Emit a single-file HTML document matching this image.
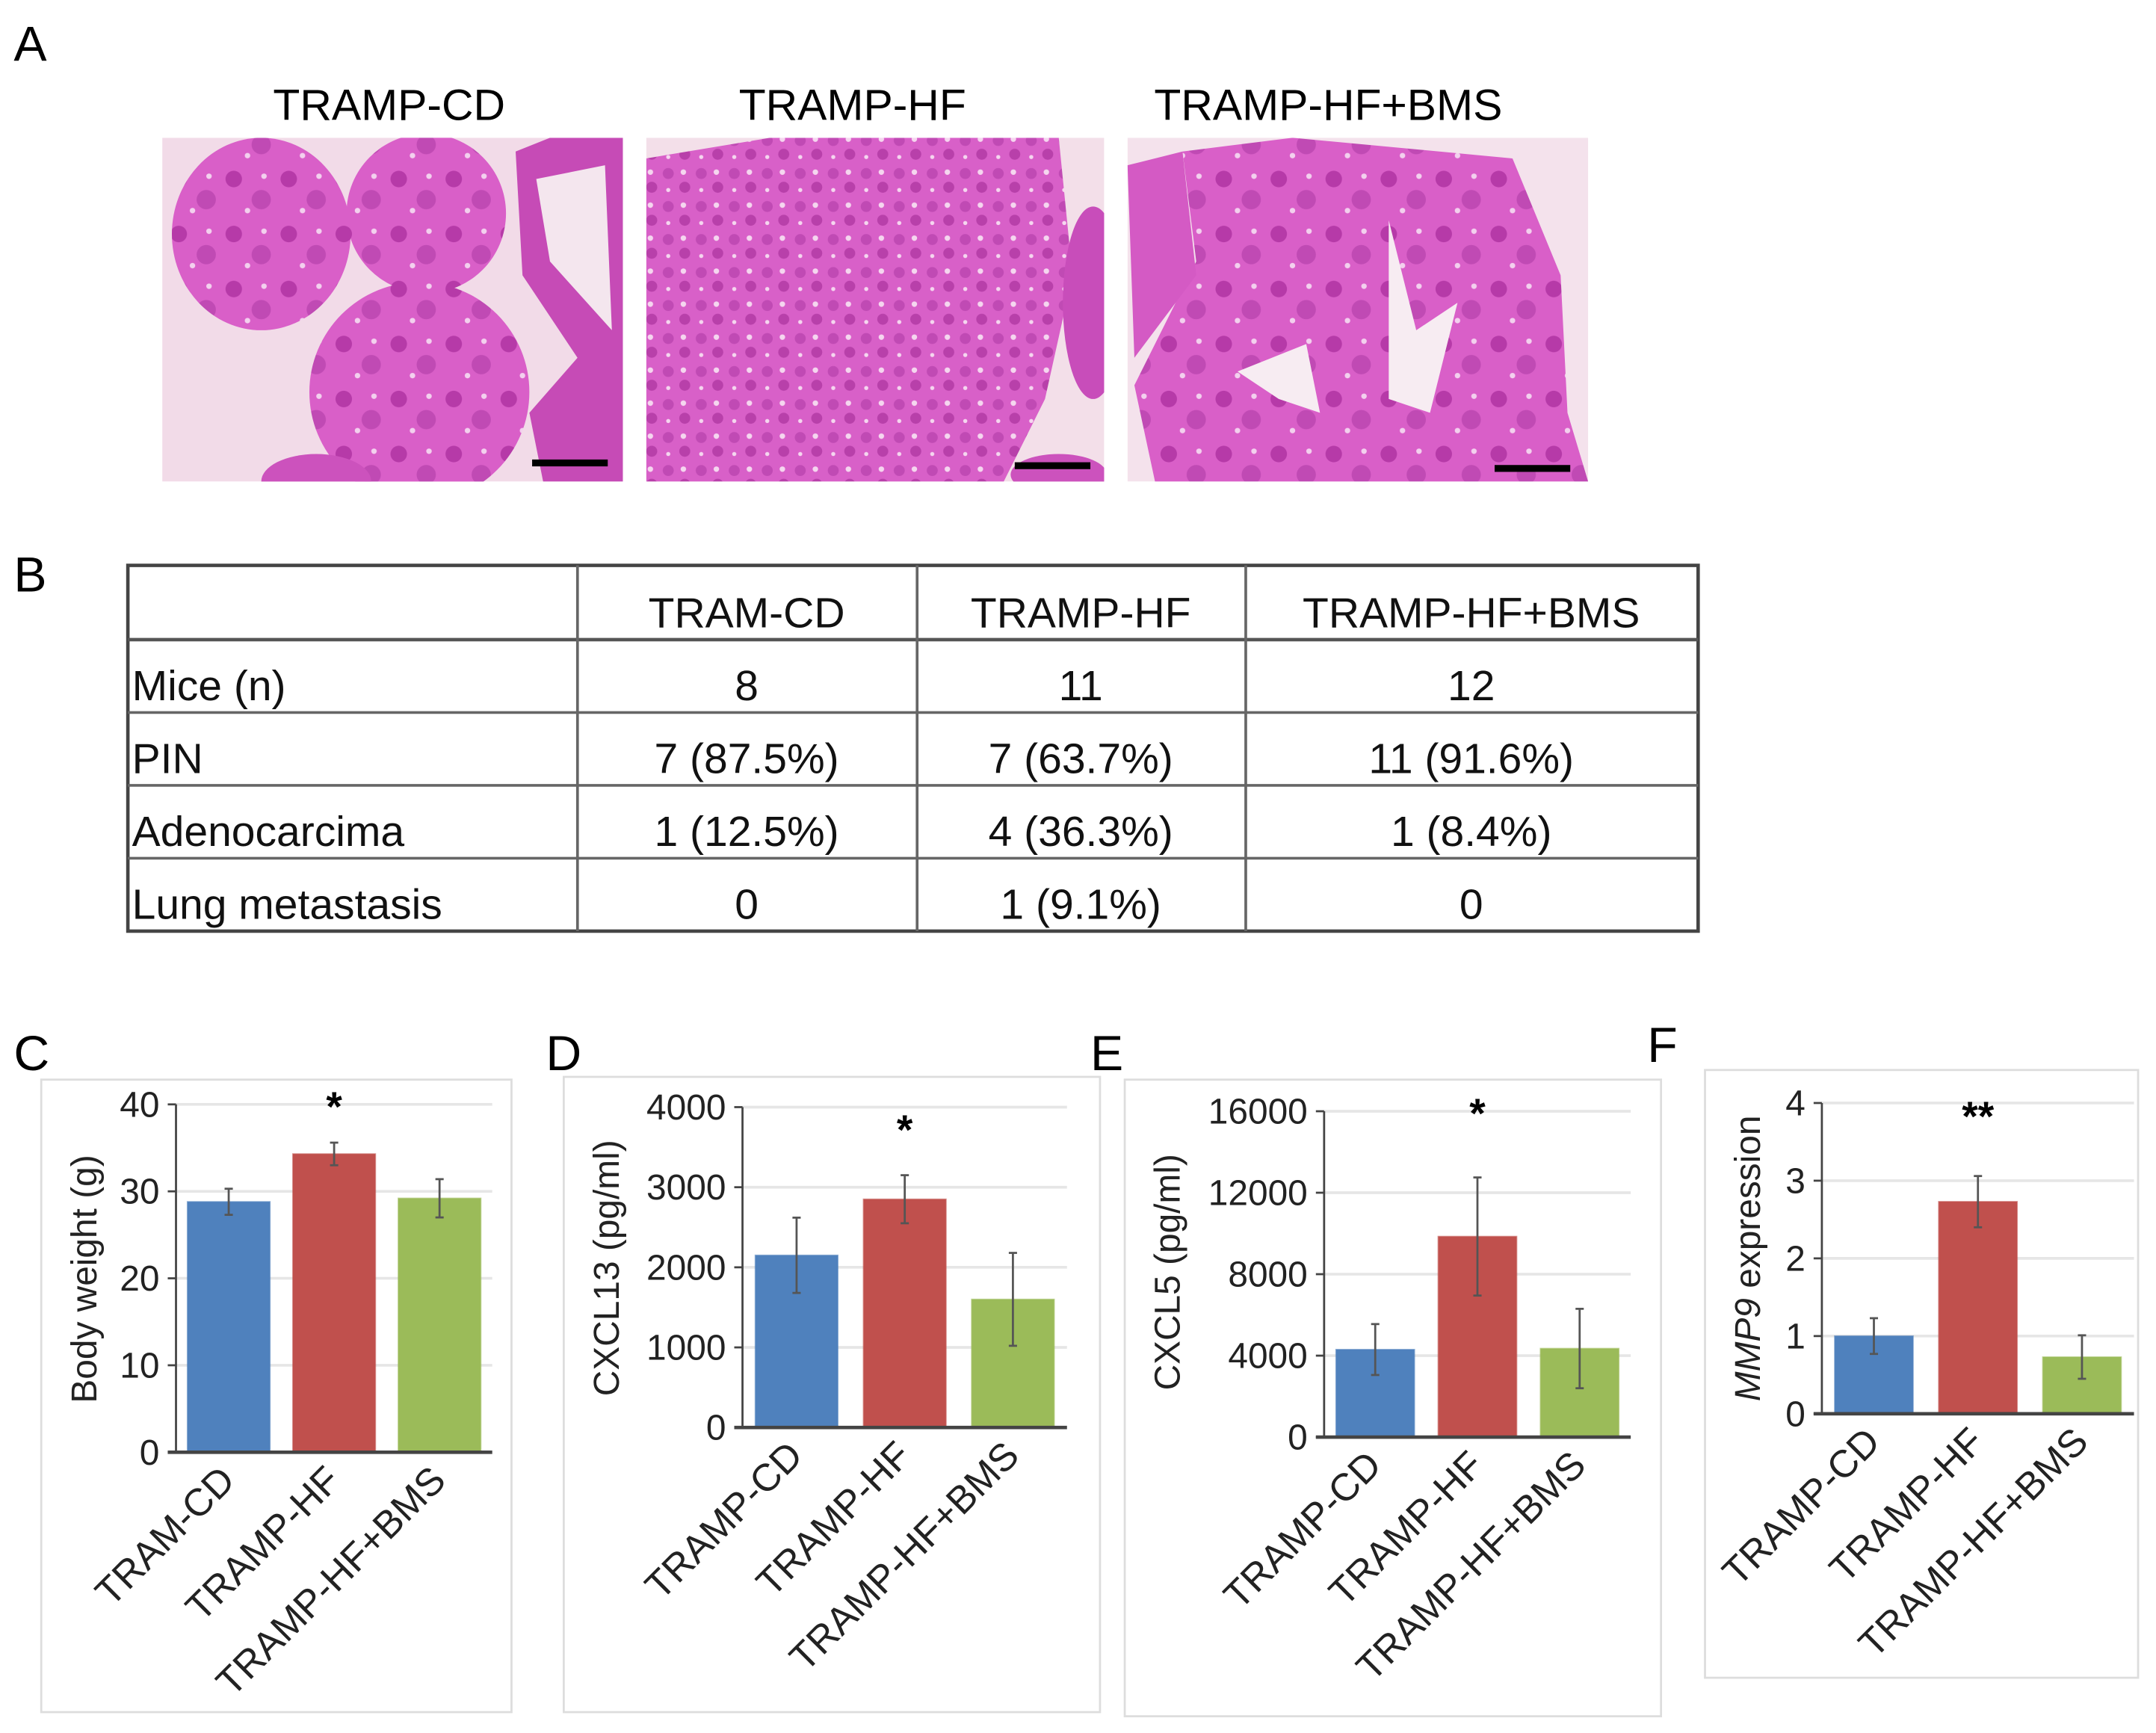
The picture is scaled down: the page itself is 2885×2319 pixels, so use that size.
<!DOCTYPE html>
<html><head><meta charset="utf-8"><style>
html,body{margin:0;padding:0;background:#fff;}
svg{display:block;font-family:"Liberation Sans",Arial,sans-serif;}
</style></head><body>
<svg id="fig" width="2885" height="2319" viewBox="0 0 1568 1260" xmlns="http://www.w3.org/2000/svg">
<defs>
<pattern id="tis1" width="40" height="40" patternUnits="userSpaceOnUse">
<rect width="40" height="40" fill="#d95fc8"/>
<circle cx="10" cy="10" r="6" fill="#b63aa8"/><circle cx="30" cy="25" r="7" fill="#c04ab4"/>
<circle cx="20" cy="33" r="2" fill="#f3d0ee"/><circle cx="32" cy="8" r="2" fill="#f3d0ee"/>
</pattern>
<pattern id="tis2" width="24" height="24" patternUnits="userSpaceOnUse">
<rect width="24" height="24" fill="#d860c8"/>
<circle cx="6" cy="6" r="4" fill="#c04ab4"/><circle cx="18" cy="16" r="4" fill="#b840aa"/>
<circle cx="17" cy="5" r="2" fill="#f5d6ef"/><circle cx="6" cy="18" r="1.5" fill="#f5d6ef"/>
</pattern>
<clipPath id="c1"><rect x="118" y="100" width="335" height="250"/></clipPath>
<clipPath id="c2"><rect x="470" y="100" width="333" height="250"/></clipPath>
<clipPath id="c3"><rect x="820" y="100" width="335" height="250"/></clipPath>
</defs>

<!-- Panel A -->
<text x="10" y="44" font-size="36">A</text>
<text x="283" y="87" font-size="32" text-anchor="middle">TRAMP-CD</text>
<text x="620" y="87" font-size="32" text-anchor="middle">TRAMP-HF</text>
<text x="966" y="87" font-size="32" text-anchor="middle">TRAMP-HF+BMS</text>

<g clip-path="url(#c1)">
<rect x="118" y="100" width="335" height="250" fill="#f2dbe8"/>
<ellipse cx="190" cy="170" rx="65" ry="70" fill="url(#tis1)"/>
<ellipse cx="310" cy="155" rx="58" ry="58" fill="url(#tis1)"/>
<ellipse cx="305" cy="285" rx="80" ry="80" fill="url(#tis1)"/>
<path d="M375 110 L400 100 L453 100 L453 350 L395 350 L385 300 L420 260 L380 200 Z" fill="#c64bb6"/>
<path d="M390 130 L440 120 L445 240 L400 190 Z" fill="#f4e6ee"/>
<ellipse cx="230" cy="350" rx="40" ry="20" fill="#cc52bd"/>
<rect x="387" y="334" width="55" height="5" fill="#000"/>
</g>
<g clip-path="url(#c2)">
<rect x="470" y="100" width="333" height="250" fill="#f3dfe9"/>
<path d="M470 115 L560 100 L770 100 L780 200 L760 290 L730 350 L470 350 Z" fill="url(#tis2)"/>
<ellipse cx="795" cy="220" rx="22" ry="70" fill="#c84dba"/>
<ellipse cx="770" cy="345" rx="35" ry="15" fill="#cc52bd"/>
<rect x="738" y="336" width="55" height="5" fill="#000"/>
</g>
<g clip-path="url(#c3)">
<rect x="820" y="100" width="335" height="250" fill="#f4e2ec"/>
<path d="M860 110 L940 100 L1100 115 L1135 200 L1140 300 L1155 350 L840 350 L825 280 L870 190 Z" fill="url(#tis1)"/>
<path d="M900 270 L950 250 L960 300 L930 290 Z" fill="#f7ecf2"/>
<path d="M1010 160 L1030 240 L1060 220 L1040 300 L1010 290 Z" fill="#f7ecf2"/>
<path d="M820 120 L860 110 L870 200 L825 260 Z" fill="#d45ac4"/>
<rect x="1087" y="338" width="55" height="5" fill="#000"/>
</g>

<!-- Panel B -->
<text x="10" y="430" font-size="36">B</text>
<g font-size="31" fill="#111">
<rect x="93" y="411" width="1142" height="266" fill="none" stroke="#444" stroke-width="2.5"/>
<line x1="93" y1="465" x2="1235" y2="465" stroke="#555" stroke-width="2.5"/>
<line x1="93" y1="518" x2="1235" y2="518" stroke="#666" stroke-width="2"/>
<line x1="93" y1="571" x2="1235" y2="571" stroke="#666" stroke-width="2"/>
<line x1="93" y1="624" x2="1235" y2="624" stroke="#666" stroke-width="2"/>
<line x1="420" y1="411" x2="420" y2="677" stroke="#666" stroke-width="2"/>
<line x1="667" y1="411" x2="667" y2="677" stroke="#666" stroke-width="2"/>
<line x1="906" y1="411" x2="906" y2="677" stroke="#666" stroke-width="2"/>
<g text-anchor="middle">
<text x="543" y="456">TRAM-CD</text>
<text x="786" y="456">TRAMP-HF</text>
<text x="1070" y="456">TRAMP-HF+BMS</text>
<text x="543" y="509">8</text><text x="786" y="509">11</text><text x="1070" y="509">12</text>
<text x="543" y="562">7 (87.5%)</text><text x="786" y="562">7 (63.7%)</text><text x="1070" y="562">11 (91.6%)</text>
<text x="543" y="615">1 (12.5%)</text><text x="786" y="615">4 (36.3%)</text><text x="1070" y="615">1 (8.4%)</text>
<text x="543" y="668">0</text><text x="786" y="668">1 (9.1%)</text><text x="1070" y="668">0</text>
</g>
<text x="96" y="509">Mice (n)</text>
<text x="96" y="562">PIN</text>
<text x="96" y="615">Adenocarcima</text>
<text x="96" y="668">Lung metastasis</text>
</g>

<g id="charts"></g>
</svg>
<script>
// ---- data ----
const catsC = ["TRAM-CD","TRAMP-HF","TRAMP-HF+BMS"];
const valsC = [28.8, 34.3, 29.2];
const errsC = [1.5, 1.3, 2.2];
const ticksC = [0,10,20,30,40];

const catsD = ["TRAMP-CD","TRAMP-HF","TRAMP-HF+BMS"];
const valsD = [2150, 2850, 1600];
const errsD = [470, 300, 580];
const ticksD = [0,1000,2000,3000,4000];

const catsE = ["TRAMP-CD","TRAMP-HF","TRAMP-HF+BMS"];
const valsE = [4300, 9850, 4350];
const errsE = [1250, 2900, 1950];
const ticksE = [0,4000,8000,12000,16000];

const catsF = ["TRAMP-CD","TRAMP-HF","TRAMP-HF+BMS"];
const valsF = [1.0, 2.73, 0.73];
const errsF = [0.23, 0.33, 0.28];
const ticksF = [0,1,2,3,4];

const colors = ["#4f81bd","#c0504d","#9bbb59"];
const NS = "http://www.w3.org/2000/svg";
const root = document.getElementById("charts");

function mk(tag, attrs, parent){
  const e = document.createElementNS(NS, tag);
  for (const k in attrs) e.setAttribute(k, attrs[k]);
  parent.appendChild(e);
  return e;
}

function chart(id, L, cats, vals, errs, ticks, ytitle, star){
  const g = mk("g", {}, root);
  
  
  const box = mk("rect", {x:L.bx, y:L.by, width:L.bw, height:L.bh, fill:"none", stroke:"#ddd", "stroke-width":1.5}, g);
  
  
  const lab = mk("text", {x:L.lx, y:L.ly, "font-size":36}, g);
  lab.textContent = L.letter;
  
  
  const tmax = ticks[ticks.length-1];
  const yS = v => L.y0 - (v / tmax) * (L.y0 - L.yTop);
  ticks.forEach(t => {
    const y = yS(t);
    if (t > 0) {
      const gl = mk("line", {x1:L.ax, x2:L.gx2, y1:y, y2:y, stroke:"#e6e6e6", "stroke-width":2}, g);
      
      
    }
    mk("line", {x1:L.ax-6, x2:L.ax, y1:y, y2:y, stroke:"#444", "stroke-width":1.5}, g);
    const tl = mk("text", {x:L.ax-12, y:y+9, "font-size":26, "text-anchor":"end", fill:"#222"}, g);
    tl.textContent = t;
    
    
  });
  const n = cats.length;
  const slot = (L.gx2 - L.ax) / n;
  cats.forEach((c, i) => {
    const x0 = L.ax + slot*i + (slot - L.bwid)/2;
    const y = yS(vals[i]);
    const b = mk("rect", {x:x0, y:y, width:L.bwid, height:L.y0 - y, fill:colors[i], stroke:colors[i], "stroke-opacity":0.6}, g);
    
    
    const cx = x0 + L.bwid/2;
    const e = mk("g", {stroke:"#555", "stroke-width":1.5}, g);
    
    
    mk("line", {x1:cx, x2:cx, y1:yS(vals[i]+errs[i]), y2:yS(vals[i]-errs[i])}, e);
    mk("line", {x1:cx-3, x2:cx+3, y1:yS(vals[i]+errs[i]), y2:yS(vals[i]+errs[i])}, e);
    mk("line", {x1:cx-3, x2:cx+3, y1:yS(vals[i]-errs[i]), y2:yS(vals[i]-errs[i])}, e);
    const xl = mk("text", {x:cx+6, y:L.y0+22, "font-size":28, "text-anchor":"end", fill:"#222",
      transform:`rotate(-45 ${cx+6} ${L.y0+22})`}, g);
    xl.textContent = c;
    
    
    if (i === 1) {
      const s = mk("text", {x:cx, y:L.sy, "font-size":30, "font-weight":"bold", "text-anchor":"middle"}, g);
      s.textContent = star;
      
      
    }
  });
  mk("line", {x1:L.ax, x2:L.ax, y1:L.yTop, y2:L.y0, stroke:"#444", "stroke-width":1.5}, g);
  mk("line", {x1:L.ax-6, x2:L.gx2, y1:L.y0, y2:L.y0, stroke:"#444", "stroke-width":2.5}, g);
  const yt = mk("text", {x:L.tx, y:L.ty, "font-size":26, "text-anchor":"middle", fill:"#222",
    transform:`rotate(-90 ${L.tx} ${L.ty})`}, g);
  
  
  if (Array.isArray(ytitle)) {
    const a = mk("tspan", {"font-style":"italic"}, yt); a.textContent = ytitle[0];
    const b2 = mk("tspan", {}, yt); b2.textContent = ytitle[1];
  } else yt.textContent = ytitle;
}

chart("body-weight", {bx:30,by:785,bw:342,bh:460,lx:10,ly:778,letter:"C",ax:128,gx2:358,y0:1056,yTop:803,bwid:60,tx:70,ty:930,sy:815}, catsC, valsC, errsC, ticksC, "Body weight (g)", "*");
chart("cxcl13", {bx:410,by:783,bw:390,bh:462,lx:397,ly:778,letter:"D",ax:540,gx2:776,y0:1038,yTop:805,bwid:60,tx:450,ty:922,sy:832}, catsD, valsD, errsD, ticksD, "CXCL13 (pg/ml)", "*");
chart("cxcl5", {bx:818,by:785,bw:390,bh:463,lx:793,ly:778,letter:"E",ax:963,gx2:1186,y0:1045,yTop:808,bwid:57,tx:858,ty:925,sy:820}, catsE, valsE, errsE, ticksE, "CXCL5 (pg/ml)", "*");
chart("mmp9", {bx:1240,by:778,bw:315,bh:442,lx:1198,ly:772,letter:"F",ax:1325,gx2:1552,y0:1028,yTop:802,bwid:57,tx:1280,ty:915,sy:822}, catsF, valsF, errsF, ticksF, ["MMP9"," expression"], "**");
</script>
</body></html>
